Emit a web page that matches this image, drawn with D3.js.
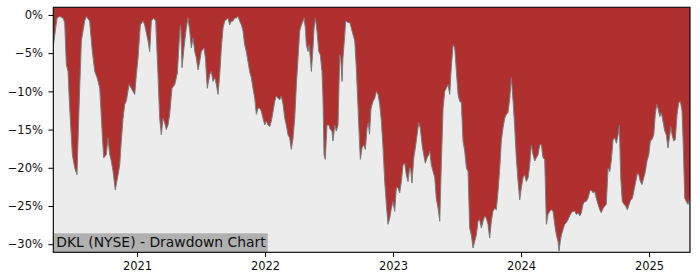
<!DOCTYPE html>
<meta charset="utf-8">
<style>
body { margin: 0; background: #fff; }
text { font-family: "DejaVu Sans", sans-serif; }
</style>
<body>
<script src="https://cdn.jsdelivr.net/npm/d3@7/dist/d3.min.js"></script>
<script>

// time as decimal years, drawdown in percent
var years = [
  2020.344,2020.375,2020.396,2020.422,2020.435,2020.448,2020.461,2020.474,2020.495,2020.513,
  2020.531,2020.547,2020.565,2020.591,2020.604,2020.630,2020.651,2020.670,2020.688,2020.709,
  2020.729,2020.740,2020.760,2020.773,2020.787,2020.799,2020.813,2020.830,2020.852,2020.865,
  2020.877,2020.891,2020.904,2020.916,2020.938,2020.955,2020.982,2020.995,2021.008,2021.026,
  2021.047,2021.060,2021.086,2021.099,2021.112,2021.130,2021.146,2021.164,2021.177,
  2021.190,2021.203,2021.216,2021.229,2021.242,2021.255,2021.273,2021.295,2021.315,2021.334,
  2021.341,2021.352,2021.367,2021.385,2021.398,2021.412,2021.424,2021.438,2021.451,2021.463,
  2021.477,2021.490,2021.502,2021.523,2021.534,2021.549,2021.568,2021.580,2021.594,2021.607,
  2021.620,2021.633,2021.646,2021.659,2021.672,2021.685,2021.698,2021.711,2021.724,2021.737,
  2021.750,2021.763,2021.776,2021.789,2021.802,2021.815,2021.828,2021.841,2021.854,2021.867,
  2021.880,2021.893,2021.906,2021.920,2021.932,2021.945,2021.959,2021.971,2021.984,
  2021.998,2022.010,2022.023,2022.037,2022.049,2022.063,2022.076,2022.088,2022.102,2022.115,
  2022.127,2022.141,2022.154,2022.166,2022.180,2022.193,2022.205,2022.219,2022.232,2022.245,
  2022.258,2022.271,2022.284,2022.297,2022.305,2022.315,2022.323,2022.336,2022.344,2022.354,
  2022.362,2022.375,2022.383,2022.393,2022.406,2022.420,2022.432,2022.445,2022.453,2022.461,
  2022.471,2022.484,2022.498,2022.510,2022.523,2022.531,2022.545,2022.557,2022.570,2022.584,
  2022.591,2022.602,2022.609,2022.623,2022.630,2022.648,2022.662,2022.674,2022.688,2022.701,
  2022.713,2022.727,2022.740,2022.745,2022.758,2022.771,2022.784,2022.797,2022.807,2022.816,
  2022.828,2022.844,2022.857,2022.870,2022.883,2022.896,2022.909,2022.922,2022.935,2022.948,
  2022.961,2022.974,2022.987,2023.000,2023.013,2023.026,2023.039,2023.052,2023.065,2023.078,
  2023.091,2023.104,2023.117,2023.130,2023.138,2023.148,2023.162,2023.174,2023.188,2023.201,
  2023.213,2023.227,2023.240,2023.252,2023.266,2023.279,2023.287,2023.299,2023.313,2023.326,
  2023.338,2023.352,2023.365,2023.377,2023.391,2023.404,2023.416,2023.430,2023.443,2023.455,
  2023.469,2023.482,2023.495,2023.508,2023.521,2023.534,2023.547,2023.560,2023.573,2023.586,
  2023.599,2023.612,2023.625,2023.638,2023.651,2023.664,2023.677,2023.690,2023.703,2023.716,
  2023.729,2023.742,2023.755,2023.768,2023.781,2023.795,2023.807,2023.820,2023.834,2023.846,
  2023.859,2023.873,2023.885,2023.898,2023.912,2023.924,2023.938,2023.951,2023.963,2023.977,
  2023.990,2024.002,2024.016,2024.029,2024.041,2024.055,2024.068,2024.080,2024.094,2024.107,
  2024.120,2024.133,2024.146,2024.159,2024.172,2024.185,2024.198,2024.211,2024.224,2024.237,
  2024.250,2024.263,2024.276,2024.289,2024.297,2024.307,2024.315,2024.328,2024.341,2024.354,
  2024.367,2024.380,2024.393,2024.406,2024.420,2024.432,2024.445,2024.459,2024.471,2024.484,
  2024.498,2024.510,2024.523,2024.537,2024.549,2024.563,2024.576,2024.588,2024.602,2024.615,
  2024.627,2024.641,2024.654,2024.666,2024.680,2024.693,2024.705,2024.719,2024.732,2024.745,
  2024.758,2024.768,2024.779,2024.791,2024.805,2024.818,2024.830,2024.844,2024.857,2024.870,
  2024.883,2024.896,2024.909,2024.920,2024.932,2024.945,2024.959,2024.971,2024.984,2024.998,
  2025.010,2025.023,2025.037,2025.049,2025.060,2025.070,2025.084,2025.096,2025.109,2025.123,
  2025.135,2025.148,2025.162,2025.170,2025.180,2025.193,2025.205,2025.219,2025.232,2025.245,
  2025.258,2025.268,2025.279,2025.291,2025.305,2025.318
];

var drawdown = [
  -4.3,-0.4,-0.2,-0.4,-1.0,-6.5,-7.4,-12.2,-18.3,-20.0,
  -20.9,-12.2,-3.4,-0.8,-0.2,-0.8,-4.8,-7.4,-8.2,-9.6,
  -15.7,-18.7,-18.3,-16.1,-18.3,-19.1,-20.5,-22.9,-20.9,-19.6,
  -16.5,-13.5,-11.7,-11.3,-9.1,-9.6,-10.4,-7.8,-5.6,-1.3,
  -0.8,-1.3,-3.4,-4.8,-0.8,-0.4,-0.8,-7.8,-13.5,
  -15.7,-13.5,-14.1,-15.0,-14.4,-13.0,-9.6,-9.1,-7.6,-2.1,
  -1.3,-6.9,-4.3,-1.7,-0.4,-2.1,-4.3,-3.0,-4.8,-5.6,
  -7.2,-6.1,-4.8,-4.3,-5.6,-9.6,-7.8,-7.4,-8.7,-8.2,
  -9.1,-10.4,-7.8,-4.3,-1.7,-0.8,-0.6,-0.4,-1.3,-0.8,
  -0.8,-0.4,-0.4,-0.2,-0.8,-1.3,-2.1,-3.9,-4.8,-6.1,
  -7.4,-8.2,-9.6,-10.9,-13.0,-12.2,-12.2,-12.6,-13.5,
  -14.4,-13.9,-14.4,-14.6,-13.9,-12.6,-11.3,-10.6,-10.9,-11.1,
  -10.6,-11.7,-13.5,-14.4,-15.7,-16.1,-17.6,-16.1,-13.5,-9.1,
  -5.6,-2.1,-1.3,-0.8,-0.4,-1.7,-3.9,-4.8,-3.9,-5.6,
  -7.4,-4.3,-1.7,-0.4,-2.1,-4.8,-5.2,-7.4,-10.9,-18.3,
  -18.9,-14.4,-14.4,-15.0,-15.2,-16.5,-14.4,-15.2,-14.4,-5.2,
  -5.6,-8.7,-5.6,-2.6,-0.8,-1.0,-1.0,-1.7,-2.6,-3.4,
  -6.9,-12.2,-17.4,-18.9,-17.4,-17.0,-17.6,-14.8,-14.1,-15.6,
  -12.2,-11.3,-10.9,-10.0,-10.4,-11.7,-13.9,-17.4,-21.8,-24.8,
  -27.4,-26.6,-25.3,-24.4,-25.7,-22.6,-22.6,-23.3,-21.8,-19.6,
  -19.4,-20.9,-21.8,-20.0,-20.2,-22.0,-18.7,-17.4,-15.7,-14.1,
  -14.8,-17.0,-18.3,-19.4,-18.7,-18.3,-17.8,-19.6,-20.5,-21.3,
  -24.0,-25.3,-27.0,-19.6,-12.2,-10.0,-9.6,-9.1,-10.4,-6.9,
  -3.9,-4.3,-7.4,-10.4,-11.3,-11.5,-16.5,-17.8,-20.0,-20.5,
  -27.9,-28.8,-30.5,-29.6,-28.8,-27.0,-26.8,-27.9,-27.0,-26.3,
  -26.6,-27.4,-29.2,-27.0,-25.7,-25.3,-25.5,-23.1,-20.0,-16.5,
  -14.8,-13.5,-13.0,-12.8,-10.9,-8.2,-11.3,-14.8,-18.7,-21.8,
  -24.2,-22.6,-21.3,-20.9,-21.8,-21.3,-19.6,-17.0,-18.3,-19.1,
  -18.7,-18.3,-17.0,-17.0,-18.7,-18.9,-27.4,-26.1,-25.7,-25.5,
  -25.7,-27.4,-28.8,-29.6,-30.9,-29.6,-28.8,-28.1,-27.4,-27.2,
  -26.8,-26.3,-25.9,-25.7,-25.7,-26.1,-25.9,-26.3,-25.9,-24.8,
  -24.4,-24.4,-24.0,-23.1,-22.9,-23.3,-23.1,-24.0,-24.8,-25.5,
  -25.9,-25.3,-25.0,-24.8,-20.0,-20.5,-19.1,-16.3,-16.1,-16.8,
  -15.7,-14.4,-21.3,-24.4,-24.8,-25.0,-25.5,-24.8,-24.2,-24.0,
  -22.9,-21.8,-20.7,-20.9,-21.8,-22.2,-21.3,-20.5,-19.1,-18.3,
  -16.5,-16.3,-15.7,-13.0,-11.7,-12.2,-13.3,-12.8,-13.9,-15.2,
  -15.7,-17.4,-15.7,-14.6,-15.7,-16.5,-16.3,-13.0,-11.5,-11.3,
  -12.6,-17.4,-24.0,-24.4,-24.8,-24.0
];

var yTicks = [0, -5, -10, -15, -20, -25, -30];
var xTicks = [2021, 2022, 2023, 2024, 2025];
var title = "DKL (NYSE) - Drawdown Chart";

var width = 700, height = 280;
var margin = {top: 7.3, right: 10, bottom: 27.7, left: 53.3};

var data = years.map(function(t, i) { return {t: t, v: drawdown[i]}; });

var x = d3.scaleLinear()
    .domain([2020.346, 2025.320])
    .range([margin.left, width - margin.right]);
var y = d3.scaleLinear()
    .domain([1.0, -31.06])
    .range([margin.top, height - margin.bottom]);

var svg = d3.select("body").append("svg")
    .attr("width", width)
    .attr("height", height);

svg.append("clipPath").attr("id", "plotclip")
  .append("rect")
    .attr("x", margin.left).attr("y", margin.top)
    .attr("width", width - margin.left - margin.right)
    .attr("height", height - margin.top - margin.bottom);

var plot = svg.append("g").attr("clip-path", "url(#plotclip)");

// red above the curve, light grey below it
plot.append("rect")
    .attr("x", margin.left).attr("y", margin.top)
    .attr("width", width - margin.left - margin.right)
    .attr("height", height - margin.top - margin.bottom)
    .attr("fill", "#b03030");

plot.append("path")
    .datum(data)
    .attr("fill", "#ececec")
    .attr("d", d3.area()
      .x(function(d) { return x(d.t); })
      .y0(height - margin.bottom)
      .y1(function(d) { return y(d.v); }));

plot.append("path")
    .datum(data)
    .attr("fill", "none")
    .attr("stroke", "#7a7a7a")
    .attr("stroke-width", 1)
    .attr("d", d3.line()
      .x(function(d) { return x(d.t); })
      .y(function(d) { return y(d.v); }));

// label box
var label = svg.append("g");
label.append("rect")
    .attr("x", margin.left)
    .attr("y", 233.3)
    .attr("width", 214.4)
    .attr("height", height - margin.bottom - 233.3)
    .attr("fill", "#b0b0b0");
label.append("text")
    .attr("x", margin.left + 3)
    .attr("y", 246.7)
    .attr("font-size", "13.9px")
    .attr("fill", "#111")
    .text(title);

// axes
var fmt = function(d) { return (d < 0 ? "\u2212" + (-d) : d) + "%"; };

var gy = svg.append("g")
    .attr("transform", "translate(" + margin.left + ",0)")
    .call(d3.axisLeft(y).tickValues(yTicks).tickFormat(fmt).tickSize(4.9).tickPadding(5.5));
var gx = svg.append("g")
    .attr("transform", "translate(0," + (height - margin.bottom) + ")")
    .call(d3.axisBottom(x).tickValues(xTicks).tickFormat(d3.format("d")).tickSize(4.9).tickPadding(5));

[gx, gy].forEach(function(g) {
  g.select(".domain").remove();
  g.selectAll(".tick line").attr("stroke", "#000").attr("stroke-width", 1);
  g.selectAll(".tick text")
    .attr("fill", "#111")
    .style("font-family", "DejaVu Sans, sans-serif")
    .attr("font-size", "11.5px");
});

// frame
svg.append("rect")
    .attr("x", margin.left).attr("y", margin.top)
    .attr("width", width - margin.left - margin.right)
    .attr("height", height - margin.top - margin.bottom)
    .attr("fill", "none")
    .attr("stroke", "#000")
    .attr("stroke-width", 1.1);

</script>
</body>
